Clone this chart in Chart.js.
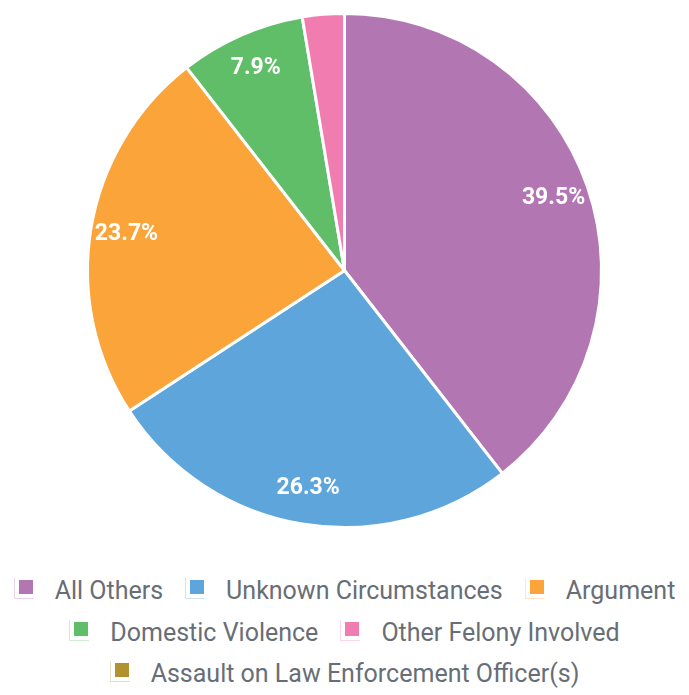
<!DOCTYPE html>
<html>
<head>
<meta charset="utf-8">
<script src="https://cdn.jsdelivr.net/npm/chart.js@4/dist/chart.umd.min.js"></script>
<style>
  html, body { margin: 0; padding: 0; background: #fff; }
  #wrap { width: 689px; height: 541px; position: relative; }
  #legend-container ul {
    list-style: none;
    margin: 29px 0 0 0;
    padding: 0;
    width: 689px;
    display: flex;
    flex-wrap: wrap;
    justify-content: center;
    column-gap: 22px;
  }
  #legend-container li {
    display: flex;
    align-items: center;
    height: 41.5px;
    font: 25px Roboto, sans-serif;
    color: #686e76;
    white-space: nowrap;
    cursor: pointer;
  }
  #legend-container li span {
    position: relative;
    display: inline-block;
    box-sizing: border-box;
    width: 20px;
    height: 21px;
    margin-right: 21px;
    transform: translateY(-2px);
  }
  #legend-container li span i {
    position: absolute;
    left: 4px;
    top: 2px;
    width: 14px;
    height: 14px;
  }
</style>
</head>
<body>
<div id="wrap"><canvas id="pieChart"></canvas></div>
<div id="legend-container"></div>
<script>
const categories = [
    "All Others",
    "Unknown Circumstances",
    "Argument",
    "Domestic Violence",
    "Other Felony Involved",
    "Assault on Law Enforcement Officer(s)",
];
const counts = [15, 10, 9, 3, 1, 0];
const colors = ["#B276B2", "#5DA5DA", "#FAA43A", "#60BD68", "#F17CB0", "#B2912F"];

const htmlLegendPlugin = {
    id: "htmlLegend",
    afterUpdate(chart, args, options) {
        const container = document.getElementById(options.containerID);
        if (!container) return;

        let list = container.querySelector("ul");
        if (!list) {
            list = document.createElement("ul");
            container.appendChild(list);
        }
        while (list.firstChild) {
            list.firstChild.remove();
        }

        const items = chart.options.plugins.legend.labels.generateLabels(chart);
        items.forEach((item) => {
            const li = document.createElement("li");
            const box = document.createElement("span");
            box.style.borderLeft = "1.5px solid " + item.fillStyle + "4d";
            box.style.borderBottom = "1.5px solid " + item.fillStyle + "4d";
            const fill = document.createElement("i");
            fill.style.background = item.fillStyle;
            box.appendChild(fill);

            li.appendChild(box);
            li.appendChild(document.createTextNode(item.text));
            li.onclick = () => {
                chart.toggleDataVisibility(item.index);
                chart.update();
            };
            list.appendChild(li);
        });
    },
};

const sliceLabels = {
    id: "sliceLabels",
    afterDatasetsDraw(chart) {
        const ctx = chart.ctx;
        const meta = chart.getDatasetMeta(0);
        const total = counts.reduce((a, b) => a + b, 0);
        ctx.save();
        ctx.fillStyle = "#ffffff";
        ctx.font = "bold 23px Roboto";
        ctx.textAlign = "center";
        ctx.textBaseline = "middle";
        meta.data.forEach((arc, i) => {
            const pct = (counts[i] / total) * 100;
            if (pct < 5) return;
            const p = arc.getProps(["x", "y", "startAngle", "endAngle", "outerRadius"], true);
            const mid = (p.startAngle + p.endAngle) / 2;
            const d = p.outerRadius * 0.86;
            ctx.fillText(pct.toFixed(1) + "%", p.x + Math.cos(mid) * d, p.y + Math.sin(mid) * d);
        });
        ctx.restore();
    },
};

new Chart(document.getElementById("pieChart"), {
    type: "pie",
    data: {
        labels: categories,
        datasets: [
            {
                data: counts,
                backgroundColor: colors,
                borderColor: "#ffffff",
                borderWidth: 3,
                hoverOffset: 0,
            },
        ],
    },
    options: {
        responsive: true,
        maintainAspectRatio: false,
        animation: false,
        radius: 257,
        plugins: {
            tooltip: { enabled: false },
            legend: { display: false },
            htmlLegend: { containerID: "legend-container" },
        },
    },
    plugins: [htmlLegendPlugin, sliceLabels],
});
</script>
</body>
</html>
